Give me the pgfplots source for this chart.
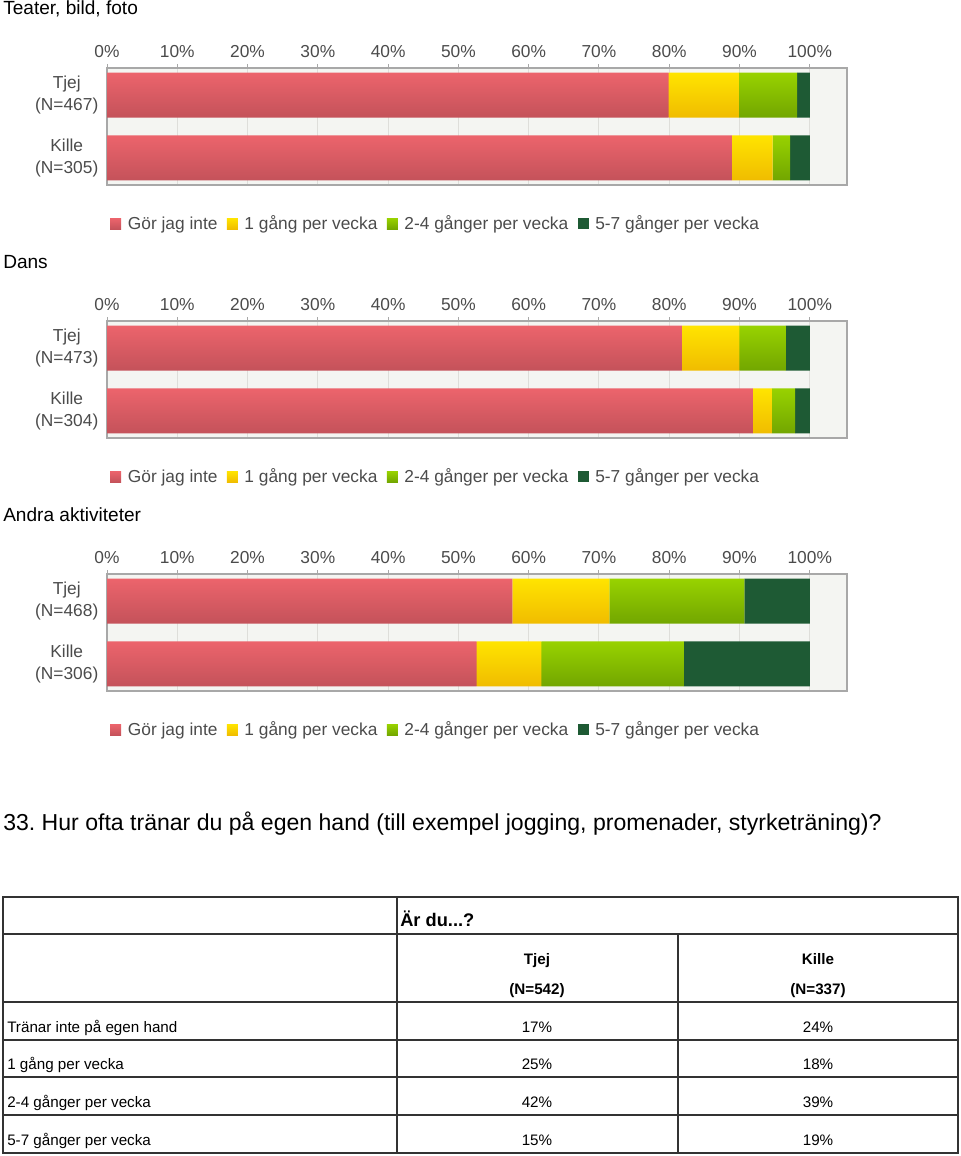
\documentclass[border=0pt]{standalone}
\usepackage{fontspec}
\setmainfont{Liberation Sans}
\usepackage{pgfplots}
\pgfplotsset{compat=1.18}
\frenchspacing

\definecolor{redT}{RGB}{236,100,108}
\definecolor{redB}{RGB}{196,82,90}
\definecolor{yelT}{RGB}{255,228,0}
\definecolor{yelB}{RGB}{240,188,0}
\definecolor{grnT}{RGB}{152,210,0}
\definecolor{grnB}{RGB}{114,166,0}
\definecolor{dgrn}{RGB}{30,90,52}
\definecolor{bgc}{RGB}{244,245,242}
\definecolor{gridc}{RGB}{222,222,218}
\definecolor{axc}{RGB}{168,168,168}
\definecolor{labc}{RGB}{75,75,75}

% one path holds both bars of a series, so the shading carries a gradient for each bar
\pgfdeclareverticalshading{redsh}{100bp}{color(0bp)=(redB); color(25bp)=(redB); color(45.89bp)=(redT); color(54.11bp)=(redB); color(75bp)=(redT); color(100bp)=(redT)}
\pgfdeclareverticalshading{yelsh}{100bp}{color(0bp)=(yelB); color(25bp)=(yelB); color(45.89bp)=(yelT); color(54.11bp)=(yelB); color(75bp)=(yelT); color(100bp)=(yelT)}
\pgfdeclareverticalshading{grnsh}{100bp}{color(0bp)=(grnB); color(25bp)=(grnB); color(45.89bp)=(grnT); color(54.11bp)=(grnB); color(75bp)=(grnT); color(100bp)=(grnT)}

% 1px of the reference = 0.75pt
\pgfplotsset{
  stackbar/.style={
    xbar stacked, scale only axis,
    width=555pt, height=87.75pt, bar width=33.75pt,
    xmin=0, xmax=105.3, ymin=-0.433, ymax=1.433,
    xtick={0,10,...,100},
    xticklabels={0\%,10\%,20\%,30\%,40\%,50\%,60\%,70\%,80\%,90\%,100\%},
    xtick pos=right, xticklabel pos=right, tick align=outside,
    major tick length=3pt,
    ytick={0,1}, ytick style={draw=none},
    tick style={draw=axc, line width=0.75pt},
    xmajorgrids, grid style={draw=gridc, line width=0.75pt},
    axis line style={draw=axc, line width=1.2pt},
    axis background/.style={fill=bgc},
    ticklabel style={font=\fontsize{13}{16.5}\selectfont, text=labc},
    xticklabel style={yshift=1.5pt},
    yticklabel style={align=center},
    legend columns=4,
    legend style={at={(0.004,-0.333)}, anchor=west, draw=none, fill=none,
      font=\fontsize{13}{16}\selectfont, text=labc, inner sep=0pt,
      /tikz/every odd column/.append style={column sep=3pt},
      /tikz/every even column/.append style={column sep=5pt}},
  },
  s1/.style={draw=none, shade, shading=redsh,
    legend image code/.code={\fill[top color=redT, bottom color=redB] (0pt,-4pt) rectangle (8.25pt,4.25pt);}},
  s2/.style={draw=none, shade, shading=yelsh,
    legend image code/.code={\fill[top color=yelT, bottom color=yelB] (0pt,-4pt) rectangle (8.25pt,4.25pt);}},
  s3/.style={draw=none, shade, shading=grnsh,
    legend image code/.code={\fill[top color=grnT, bottom color=grnB] (0pt,-4pt) rectangle (8.25pt,4.25pt);}},
  s4/.style={draw=none, fill=dgrn,
    legend image code/.code={\fill[dgrn] (0pt,-4pt) rectangle (8.25pt,4.25pt);}},
}

\begin{document}
\begin{tikzpicture}
\begin{scope}[x=0.75pt, y=-0.75pt]
\path[use as bounding box] (0,0) rectangle (960,1156);
\node[anchor=base west, inner sep=0pt, font=\fontsize{14.3}{17}\selectfont] at (3,15) {Teater, bild, foto};
\node[anchor=base west, inner sep=0pt, font=\fontsize{14.3}{17}\selectfont] at (3,268) {Dans};
\node[anchor=base west, inner sep=0pt, font=\fontsize{14.3}{17}\selectfont] at (3,521.5) {Andra aktiviteter};
\node[anchor=base west, inner sep=0pt, font=\fontsize{17.3}{20}\selectfont] at (3,830) {33. Hur ofta tränar du på egen hand (till exempel jogging, promenader, styrketräning)?};

% table
\draw[line width=0.8pt, black!80] (3,897) rectangle (958,1153);
\foreach \yy in {934,1002,1040,1077,1115} \draw[line width=0.8pt, black!80] (3,\yy) -- (958,\yy);
\draw[line width=0.8pt, black!80] (397,897) -- (397,1153);
\draw[line width=0.8pt, black!80] (678,934) -- (678,1153);
\begin{scope}[every node/.style={inner sep=0pt, font=\fontsize{11.4}{13}\selectfont}]
\node[anchor=base west, font=\fontsize{13.7}{16}\selectfont\bfseries] at (400,926) {Är du...?};
\node[anchor=base, font=\fontsize{11.4}{13}\selectfont\bfseries] at (537,964) {Tjej};
\node[anchor=base, font=\fontsize{11.4}{13}\selectfont\bfseries] at (537,994) {(N=542)};
\node[anchor=base, font=\fontsize{11.4}{13}\selectfont\bfseries] at (818,964) {Kille};
\node[anchor=base, font=\fontsize{11.4}{13}\selectfont\bfseries] at (818,994) {(N=337)};
\node[anchor=base west] at (7,1032) {Tränar inte på egen hand};
\node[anchor=base west] at (7,1069) {1 gång per vecka};
\node[anchor=base west] at (7,1107) {2-4 gånger per vecka};
\node[anchor=base west] at (7,1145) {5-7 gånger per vecka};
\node[anchor=base] at (537,1032) {17\%};
\node[anchor=base] at (818,1032) {24\%};
\node[anchor=base] at (537,1069) {25\%};
\node[anchor=base] at (818,1069) {18\%};
\node[anchor=base] at (537,1107) {42\%};
\node[anchor=base] at (818,1107) {39\%};
\node[anchor=base] at (537,1145) {15\%};
\node[anchor=base] at (818,1145) {19\%};
\end{scope}
\end{scope}

% Teater, bild, foto
\begin{axis}[stackbar, at={(80.25pt,-138.75pt)}, anchor=south west,
  yticklabels={{Kille\\(N=305)},{Tjej\\(N=467)}}]
\addplot[s1] coordinates {(79.9,1) (88.9,0)};
\addplot[s2] coordinates {(10.0,1) (5.8,0)};
\addplot[s3] coordinates {(8.3,1) (2.5,0)};
\addplot[s4] coordinates {(1.8,1) (2.8,0)};
\legend{Gör jag inte, 1 gång per vecka, 2-4 gånger per vecka, 5-7 gånger per vecka}
\end{axis}

% Dans
\begin{axis}[stackbar, at={(80.25pt,-328.5pt)}, anchor=south west,
  yticklabels={{Kille\\(N=304)},{Tjej\\(N=473)}}]
\addplot[s1] coordinates {(81.8,1) (91.9,0)};
\addplot[s2] coordinates {(8.2,1) (2.7,0)};
\addplot[s3] coordinates {(6.6,1) (3.3,0)};
\addplot[s4] coordinates {(3.4,1) (2.1,0)};
\legend{Gör jag inte, 1 gång per vecka, 2-4 gånger per vecka, 5-7 gånger per vecka}
\end{axis}

% Andra aktiviteter
\begin{axis}[stackbar, at={(80.25pt,-518.25pt)}, anchor=south west,
  yticklabels={{Kille\\(N=306)},{Tjej\\(N=468)}}]
\addplot[s1] coordinates {(57.7,1) (52.6,0)};
\addplot[s2] coordinates {(13.8,1) (9.2,0)};
\addplot[s3] coordinates {(19.2,1) (20.3,0)};
\addplot[s4] coordinates {(9.3,1) (17.9,0)};
\legend{Gör jag inte, 1 gång per vecka, 2-4 gånger per vecka, 5-7 gånger per vecka}
\end{axis}
\end{tikzpicture}
\end{document}
